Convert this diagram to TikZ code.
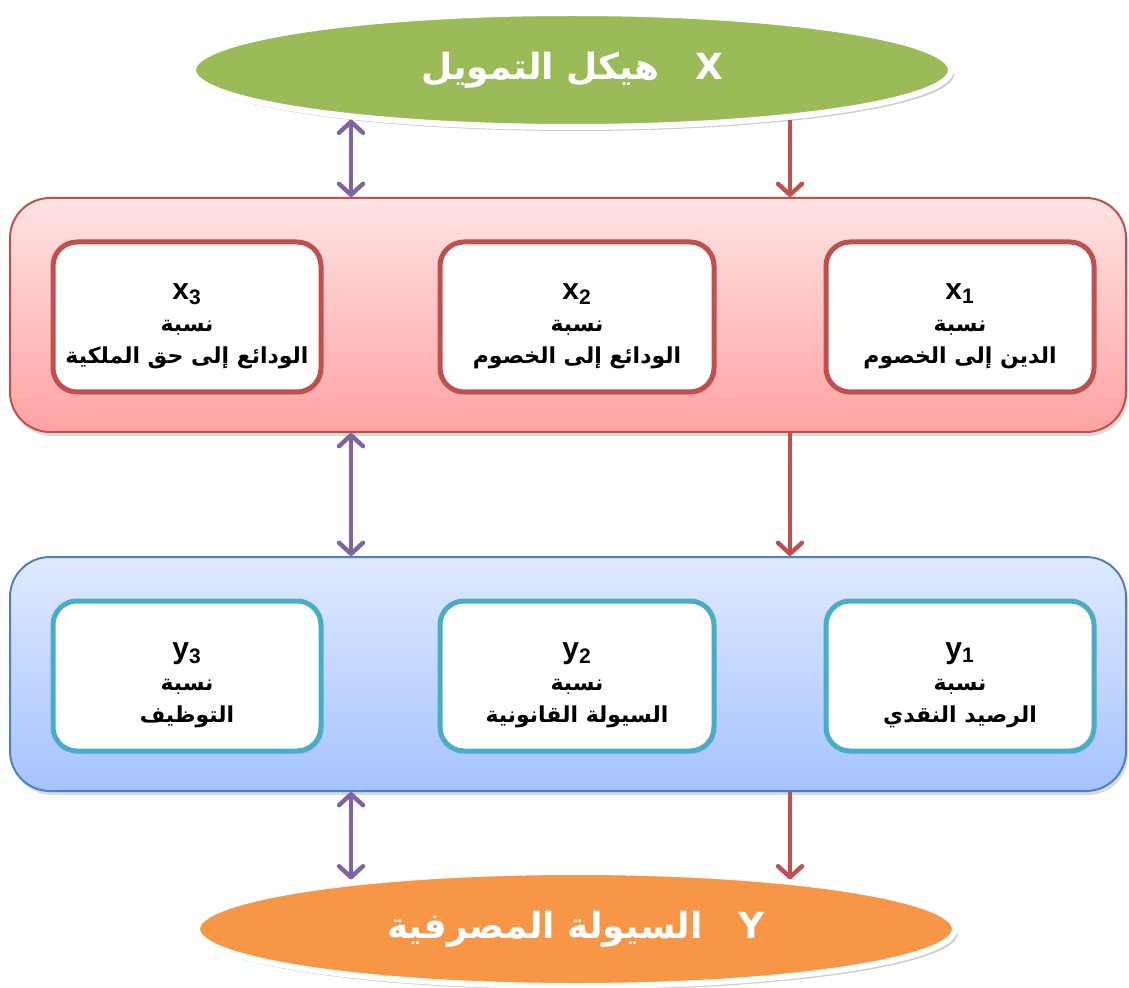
\documentclass[tikz,border=0pt]{standalone}
\usepackage{fontspec}
\setmainfont{Liberation Sans}
\newfontfamily\arabicfont[Script=Arabic]{DejaVu Sans}
\TeXXeTstate=1
\usepackage{tikz}
\usetikzlibrary{arrows.meta}
\usetikzlibrary{shapes.geometric}
\usetikzlibrary{shadows}
\definecolor{ovalgreen}{HTML}{9BBB59}
\definecolor{ovalorange}{HTML}{F79646}
\definecolor{xred}{HTML}{C0504D}
\definecolor{xtop}{HTML}{FFE3E3}
\definecolor{xbottom}{HTML}{FFA3A3}
\definecolor{yblue}{HTML}{4F81BD}
\definecolor{ytop}{HTML}{E0EAFF}
\definecolor{ybottom}{HTML}{A5C3FF}
\definecolor{yteal}{HTML}{4BACC6}
\definecolor{linkpurple}{HTML}{8064A2}
\newcommand{\artext}[1]{{\arabicfont\beginR #1\endR}}
\newcommand{\varlabel}[2]{{\fontsize{15}{15}\selectfont\rule{0pt}{17pt}#1\textsubscript{#2}}}
\tikzset{oval/.style = {ellipse, draw = white, line width = 3pt,
                        minimum width = 379pt, minimum height = 57pt,
                        text = white, font = \fontsize{18}{22}\selectfont\bfseries,
                        drop shadow = {opacity = 0.4, shadow xshift = 1.5pt, shadow yshift = -2pt}}}
\tikzset{panel/.style = {rectangle, rounded corners = 20pt, line width = 1pt,
                         minimum width = 558pt, minimum height = 117pt,
                         drop shadow = {opacity = 0.3, shadow xshift = 1pt, shadow yshift = -2pt}}}
\tikzset{cell/.style = {rectangle, rounded corners = 12pt, line width = 2.5pt, fill = white,
                        minimum width = 134pt, minimum height = 75pt, align = center,
                        font = \fontsize{11}{16}\selectfont\bfseries,
                        drop shadow = {opacity = 0.2, shadow xshift = 1pt, shadow yshift = -1.5pt}}}
\tikzset{twoway/.style = {{Straight Barb[round, length = 5.5pt, width = 12pt]}-{Straight Barb[round, length = 5.5pt, width = 12pt]},
                          line width = 2.2pt, draw = linkpurple}}
\tikzset{oneway/.style = {-{Straight Barb[round, length = 5.5pt, width = 12pt]},
                          line width = 2.2pt, draw = xred}}

\begin{document}
\begin{tikzpicture}[x = 0.5pt, y = -0.5pt]
    \useasboundingbox (0, 0) rectangle (1129, 988);

    \node [oval, fill = ovalgreen] (finance) at (572, 70) {\artext{\beginL X\endL\quad هيكل التمويل}};
    \node [oval, fill = ovalorange] (liquidity) at (576, 929) {\artext{\beginL Y\endL\quad السيولة المصرفية}};

    \node [panel, draw = xred, top color = xtop, bottom color = xbottom] (xpanel) at (568, 315) {};
    \node [panel, draw = yblue, top color = ytop, bottom color = ybottom] (ypanel) at (568, 674) {};

    \node [cell, draw = xred] (x3) at (187, 317) {\varlabel{x}{3}\\ \artext{نسبة}\\ \artext{الودائع إلى حق الملكية}};
    \node [cell, draw = xred, minimum width = 137pt] (x2) at (577, 317) {\varlabel{x}{2}\\ \artext{نسبة}\\ \artext{الودائع إلى الخصوم}};
    \node [cell, draw = xred] (x1) at (960, 317) {\varlabel{x}{1}\\ \artext{نسبة}\\ \artext{الدين إلى الخصوم}};

    \node [cell, draw = yteal] (y3) at (187, 676) {\varlabel{y}{3}\\ \artext{نسبة}\\ \artext{التوظيف}};
    \node [cell, draw = yteal, minimum width = 137pt] (y2) at (577, 676) {\varlabel{y}{2}\\ \artext{نسبة}\\ \artext{السيولة القانونية}};
    \node [cell, draw = yteal] (y1) at (960, 676) {\varlabel{y}{1}\\ \artext{نسبة}\\ \artext{الرصيد النقدي}};

    % lanes of the connectors
    \coordinate (linklane) at (351, 0);
    \coordinate (flowlane) at (790, 0);

    \draw [twoway] (linklane |- finance.193) -- (linklane |- xpanel.north);
    \draw [oneway] (flowlane |- finance.347) -- (flowlane |- xpanel.north);
    \draw [twoway] (linklane |- xpanel.south) -- (linklane |- ypanel.north);
    \draw [oneway] (flowlane |- xpanel.south) -- (flowlane |- ypanel.north);
    \draw [twoway] (linklane |- ypanel.south) -- (linklane |- liquidity.167);
    \draw [oneway] (flowlane |- ypanel.south) -- (flowlane |- liquidity.13);
\end{tikzpicture}
\end{document}
